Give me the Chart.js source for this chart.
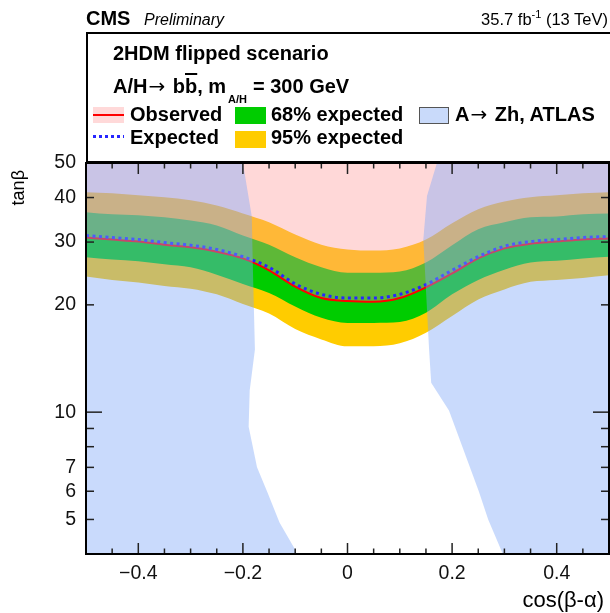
<!DOCTYPE html>
<html>
<head>
<meta charset="utf-8">
<script src="https://cdn.jsdelivr.net/npm/chart.js@4.4.1/dist/chart.umd.min.js"></script>
<style>
  body { margin: 0; background: #fff; font-family: "Liberation Sans", Arial, sans-serif; }
  #wrap { position: relative; width: 610px; height: 613px; overflow: hidden; }
  #c { position: absolute; left: 0; top: 0; }
  .t { position: absolute; white-space: nowrap; line-height: 1; color: #000; }
  .b { font-weight: bold; }
  .arr { font-family: "DejaVu Sans", sans-serif; font-weight: normal; font-size: 20px; margin: 0 2px 0 1px; }
  .sw { position: absolute; }
  #legend { position: absolute; left: 86px; top: 32px; width: 524px; height: 131px; box-sizing: border-box;
            border: 2px solid #000; border-right: none; background: #fff; }
</style>
</head>
<body>
<div id="wrap">
  <canvas id="c" width="610" height="613"></canvas>

  <div class="t b" style="left:86px; top:8px; font-size:20px;">CMS</div>
  <div class="t" style="left:144px; top:11.5px; font-size:16px; font-style:italic;">Preliminary</div>
  <div class="t" style="right:2px; top:11px; font-size:16.5px;">35.7 fb<span style="font-size:11px; position:relative; top:-7px;">-1</span> (13 TeV)</div>

  <div id="legend"></div>
  <div class="t b" style="left:113px; top:43px; font-size:20px;">2HDM flipped scenario</div>
  <div class="t b" style="left:113px; top:76px; font-size:20px;">A/H<span class="arr">&#8594;</span> b<span style="text-decoration:overline;">b</span>, m</div>
  <div class="t b" style="left:228px; top:94px; font-size:11px;">A/H</div>
  <div class="t b" style="left:253px; top:76px; font-size:20px;">= 300 GeV</div>

  <div class="sw" style="left:93px; top:107px; width:31px; height:16px; background:#ffd9d9;"></div>
  <div class="sw" style="left:93px; top:114px; width:31px; height:2px; background:#ff0000;"></div>
  <div class="t b" style="left:130px; top:104px; font-size:20px;">Observed</div>

  <div class="sw" style="left:93px; top:135px; width:31px; height:3px; background:repeating-linear-gradient(90deg, #2626ff 0 3px, transparent 3px 6px);"></div>
  <div class="t b" style="left:130px; top:126.5px; font-size:20px;">Expected</div>

  <div class="sw" style="left:235px; top:107px; width:31px; height:17px; background:#00cc00;"></div>
  <div class="t b" style="left:271px; top:104px; font-size:20px;">68% expected</div>

  <div class="sw" style="left:235px; top:131px; width:31px; height:17px; background:#ffcc00;"></div>
  <div class="t b" style="left:271px; top:126.5px; font-size:20px;">95% expected</div>

  <div class="sw" style="left:419px; top:107px; width:30px; height:17px; box-sizing:border-box; background:#c9dafa; border:1px solid #555;"></div>
  <div class="t b" style="left:455px; top:104px; font-size:20px;">A<span class="arr">&#8594;</span> Zh, ATLAS</div>

  <div class="t" style="right:6px; top:589px; font-size:22px;">cos(&#946;-&#945;)</div>
  <div class="t" style="left:9px; top:230px; width:60px; text-align:right; font-size:18px; transform-origin:0 0; transform:rotate(-90deg);">tan&#946;</div>
</div>

<script>
// cos(beta-alpha) sample points and tan(beta) limits
const cosBA = [-0.5, -0.45, -0.4, -0.35, -0.3, -0.25, -0.2, -0.15, -0.1, -0.05, 0, 0.05, 0.1, 0.15, 0.2, 0.25, 0.3, 0.35, 0.4, 0.45, 0.5];
const observed = [30.9, 30.5, 30.1, 29.5, 29.0, 28.2, 27.0, 25.0, 22.5, 20.9, 20.5, 20.4, 20.9, 22.4, 24.5, 27.0, 28.8, 29.7, 30.1, 30.5, 30.7];
const expected = [31.3, 30.9, 30.5, 29.9, 29.4, 28.6, 27.3, 25.5, 22.9, 21.4, 20.9, 20.9, 21.4, 22.8, 25.0, 27.3, 29.2, 30.1, 30.5, 30.9, 31.1];
const up68 = [36.4, 35.9, 35.7, 35.2, 34.5, 33.4, 31.3, 29.5, 27.2, 25.5, 24.6, 24.6, 24.8, 26.3, 29.4, 32.6, 34.1, 35.2, 35.4, 35.9, 36.1];
const down68 = [27.2, 26.8, 26.5, 26.0, 25.5, 24.3, 22.9, 21.6, 19.8, 18.4, 17.8, 17.8, 17.9, 19.0, 21.4, 23.5, 25.1, 26.3, 26.6, 27.0, 27.3];
const up95 = [41.4, 41.1, 40.6, 40.1, 39.3, 38.0, 36.1, 34.1, 31.5, 29.5, 28.6, 28.4, 28.8, 30.5, 33.9, 37.1, 39.0, 40.1, 40.6, 41.1, 41.4];
const down95 = [24.0, 23.5, 23.1, 22.6, 22.2, 21.4, 20.1, 18.9, 17.1, 16.0, 15.3, 15.3, 15.6, 16.7, 18.6, 20.7, 22.1, 23.2, 23.5, 23.8, 24.2];

// ATLAS A->Zh excluded regions (outline points)
const atlasLeftX = [-0.5, -0.5, -0.200, -0.183, -0.181, -0.177, -0.187, -0.189, -0.173, -0.152, -0.130, -0.101, -0.097];
const atlasLeftY = [4, 50, 50, 35.4, 25.6, 15.0, 11.5, 9.1, 7.0, 5.9, 4.9, 4.14, 4];
const atlasRightX = [0.171, 0.152, 0.145, 0.156, 0.160, 0.194, 0.208, 0.251, 0.269, 0.297, 0.5, 0.5];
const atlasRightY = [50, 40.4, 30.5, 15.0, 12.1, 10.1, 8.9, 6.0, 5.0, 4, 4, 50];

// axis ticks
const xTickValues = [-0.4, -0.2, 0, 0.2, 0.4];
const xTickLabels = ['\u22120.4', '\u22120.2', '0', '0.2', '0.4'];
const xMinorTicks = [-0.45, -0.35, -0.3, -0.25, -0.15, -0.1, -0.05, 0.05, 0.1, 0.15, 0.25, 0.3, 0.35, 0.45];
const yTickValues = [5, 6, 7, 10, 20, 30, 40, 50];
const yTickLabels = ['5', '6', '7', '10', '20', '30', '40', '50'];
const yMajorTicks = [10];
const yMinorTicks = [5, 6, 7, 8, 9, 20, 30, 40];

const pts = (xs, ys) => xs.map((x, i) => ({ x: x, y: ys[i] }));

const curve = {
  pointRadius: 0,
  cubicInterpolationMode: 'monotone',
};

const frameTicks = {
  id: 'frameTicks',
  afterDatasetsDraw(chart) {
    const { ctx, chartArea: a, scales: { x, y } } = chart;
    ctx.save();
    ctx.strokeStyle = '#222';
    ctx.lineWidth = 1.5;
    const seg = (x1, y1, x2, y2) => { ctx.beginPath(); ctx.moveTo(x1, y1); ctx.lineTo(x2, y2); ctx.stroke(); };
    xTickValues.forEach(v => {
      const px = x.getPixelForValue(v);
      seg(px, a.bottom, px, a.bottom - 11);
      seg(px, a.top, px, a.top + 11);
    });
    xMinorTicks.forEach(v => {
      const px = x.getPixelForValue(v);
      seg(px, a.bottom, px, a.bottom - 5.5);
      seg(px, a.top, px, a.top + 5.5);
    });
    yMajorTicks.forEach(v => {
      const py = y.getPixelForValue(v);
      seg(a.left, py, a.left + 16, py);
      seg(a.right, py, a.right - 16, py);
    });
    yMinorTicks.forEach(v => {
      const py = y.getPixelForValue(v);
      seg(a.left, py, a.left + 8, py);
      seg(a.right, py, a.right - 8, py);
    });
    ctx.strokeStyle = '#000';
    ctx.lineWidth = 2;
    ctx.strokeRect(a.left, a.top, a.right - a.left, a.bottom - a.top);
    ctx.restore();
  }
};

new Chart(document.getElementById('c'), {
  type: 'line',
  data: {
    datasets: [
      { label: 'Observed', data: pts(cosBA, observed), ...curve, borderColor: '#ff0000', borderWidth: 2,
        fill: 'end', backgroundColor: 'rgba(255,150,150,0.37)', order: 2 },
      { label: 'Expected', data: pts(cosBA, expected), ...curve, borderColor: '#2626ff', borderWidth: 3,
        borderDash: [3, 3.5], fill: false, order: 1 },
      { label: '68% expected', data: pts(cosBA, up68), ...curve, borderWidth: 0, borderColor: 'rgba(0,0,0,0)',
        fill: '+1', backgroundColor: '#00cc00', order: 3 },
      { label: '68% low', data: pts(cosBA, down68), ...curve, borderWidth: 0, borderColor: 'rgba(0,0,0,0)',
        fill: false, order: 4 },
      { label: '95% expected', data: pts(cosBA, up95), ...curve, borderWidth: 0, borderColor: 'rgba(0,0,0,0)',
        fill: '+1', backgroundColor: '#ffcc00', order: 5 },
      { label: '95% low', data: pts(cosBA, down95), ...curve, borderWidth: 0, borderColor: 'rgba(0,0,0,0)',
        fill: false, order: 6 },
      { label: 'A->Zh ATLAS', data: pts(atlasLeftX, atlasLeftY), pointRadius: 0, tension: 0, borderWidth: 0,
        borderColor: 'rgba(0,0,0,0)', fill: 'shape', backgroundColor: 'rgba(126,167,248,0.42)', order: 0 },
      { label: 'A->Zh ATLAS right', data: pts(atlasRightX, atlasRightY), pointRadius: 0, tension: 0, borderWidth: 0,
        borderColor: 'rgba(0,0,0,0)', fill: 'shape', backgroundColor: 'rgba(126,167,248,0.42)', order: 0 }
    ]
  },
  options: {
    responsive: false,
    animation: false,
    devicePixelRatio: 1,
    layout: { padding: { top: 163, right: 1, left: 0, bottom: 0 } },
    plugins: { legend: { display: false }, tooltip: { enabled: false } },
    scales: {
      x: {
        type: 'linear', min: -0.5, max: 0.5,
        grid: { display: false, drawTicks: false },
        border: { display: false },
        afterBuildTicks: s => { s.ticks = xTickValues.map(v => ({ value: v })); },
        afterFit: s => { s.height = 59; },
        ticks: {
          autoSkip: false, maxRotation: 0, padding: 8, color: '#111',
          font: { family: 'Liberation Sans', size: 19.5 },
          callback: v => { const i = xTickValues.indexOf(v); return i < 0 ? '' : xTickLabels[i]; }
        }
      },
      y: {
        type: 'logarithmic', min: 4, max: 50,
        grid: { display: false, drawTicks: false },
        border: { display: false },
        afterBuildTicks: s => { s.ticks = yTickValues.map(v => ({ value: v })); },
        afterFit: s => { s.width = 86; },
        ticks: {
          autoSkip: false, padding: 10, color: '#111',
          font: { family: 'Liberation Sans', size: 19.5 },
          callback: v => { const i = yTickValues.indexOf(v); return i < 0 ? '' : yTickLabels[i]; }
        }
      }
    }
  },
  plugins: [frameTicks]
});
</script>
</body>
</html>
